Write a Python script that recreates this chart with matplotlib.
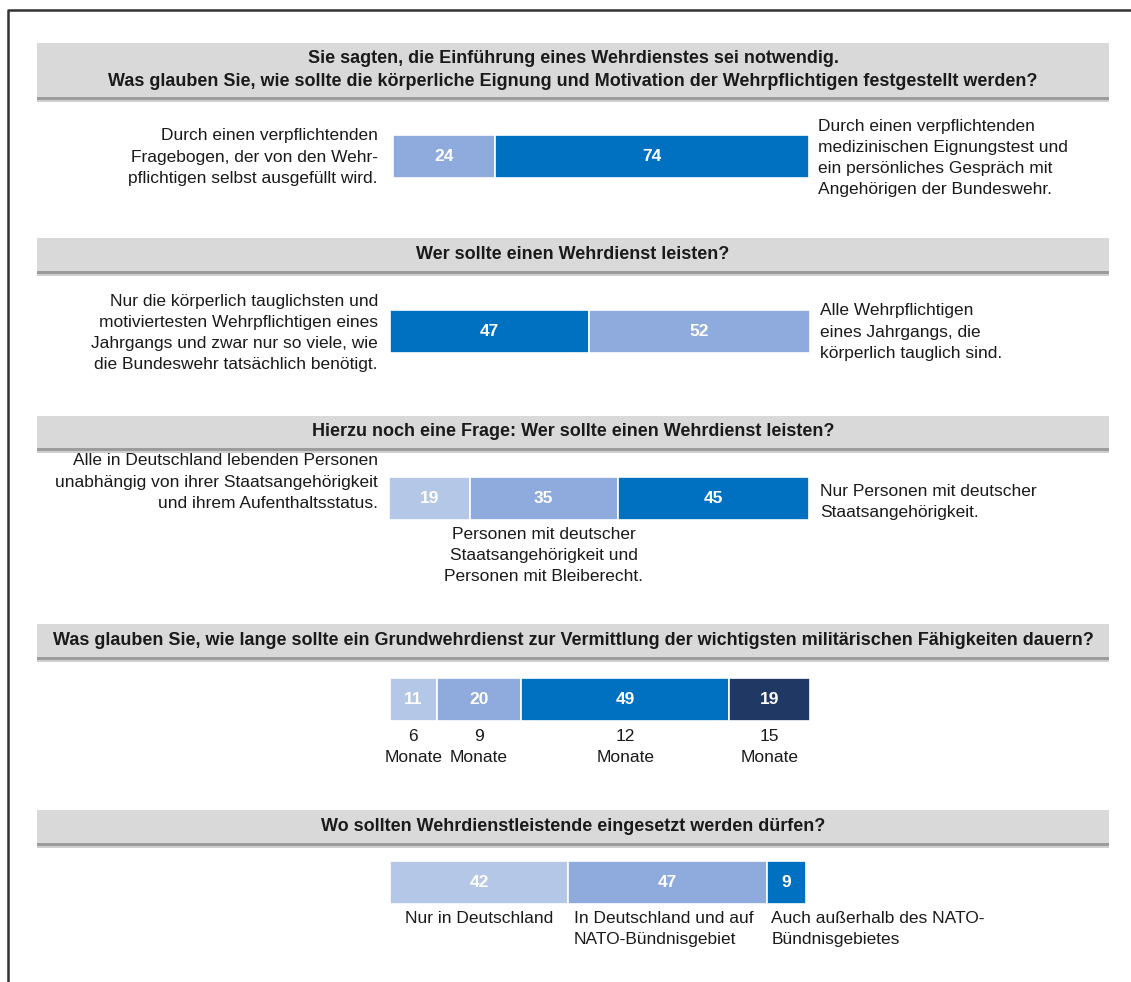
import matplotlib
matplotlib.use('Agg')
import matplotlib.pyplot as plt
from matplotlib.patches import Rectangle

plt.rcParams['font.family'] = ['Liberation Sans', 'DejaVu Sans']

# --- data ---
q1_values = [24, 74]
q2_values = [47, 52]
q3_values = [19, 35, 45]
q4_values = [11, 20, 49, 19]
q4_labels = ['6\nMonate', '9\nMonate', '12\nMonate', '15\nMonate']
q5_values = [42, 47, 9]
q5_labels = ['Nur in Deutschland', 'In Deutschland und auf\nNATO-Bündnisgebiet',
             'Auch außerhalb des NATO-\nBündnisgebietes']

headers = [
    'Sie sagten, die Einführung eines Wehrdienstes sei notwendig.\n'
    'Was glauben Sie, wie sollte die körperliche Eignung und Motivation der Wehrpflichtigen festgestellt werden?',
    'Wer sollte einen Wehrdienst leisten?',
    'Hierzu noch eine Frage: Wer sollte einen Wehrdienst leisten?',
    'Was glauben Sie, wie lange sollte ein Grundwehrdienst zur Vermittlung der wichtigsten militärischen Fähigkeiten dauern?',
    'Wo sollten Wehrdienstleistende eingesetzt werden dürfen?',
]

# colours
LIGHT = '#b4c7e7'
MID = '#8faadc'
BLUE = '#0070c0'
NAVY = '#203864'

# --- layout (pixels, y from top) ---
W, H = 1131, 982
X0 = 390.0       # pixel where 0 % sits
SCALE = 4.24     # pixels per percent
FS = 12.5
LS = 1.52

fig = plt.figure(figsize=(W / 100, H / 100), dpi=100)
ax = fig.add_axes([0, 0, 1, 1])
ax.set_xlim(-X0 / SCALE, (W - X0) / SCALE)
ax.set_ylim(H, 0)
ax.axis('off')


def px(x):
    # pixel x -> percent units
    return (x - X0) / SCALE


# frame
ax.plot([px(8), px(8), px(W)], [H, 9.5, 9.5], color='#333333', lw=1.8,
        solid_capstyle='butt')

# header bands
band_pos = [(43, 97), (238, 271), (416, 448), (624, 657), (810, 843)]
for (top, bot), txt in zip(band_pos, headers):
    ax.add_patch(Rectangle((px(37), bot), px(1109) - px(37), 2.5,
                           color='#9c9c9c', lw=0))
    ax.add_patch(Rectangle((px(37), bot + 2.5), px(1109) - px(37), 2.5,
                           color='#cfcfcf', lw=0))
    ax.add_patch(Rectangle((px(37), top), px(1109) - px(37), bot - top,
                           color='#d9d9d9', lw=0))
    ax.text(px(573), (top + bot) / 2, txt, ha='center', va='center',
            fontsize=13, fontweight='bold', color='#1a1a1a', linespacing=1.45)


def stacked(values, colors, yc, start=X0, h=43):
    left = (start - X0) / SCALE
    lefts = []
    for v, c in zip(values, colors):
        ax.barh(yc, v, left=left, height=h, color=c, edgecolor='white', lw=1.2)
        ax.text(left + v / 2, yc, str(v), ha='center', va='center',
                fontsize=FS, fontweight='bold', color='white')
        lefts.append(left)
        left += v
    return lefts


body = dict(fontsize=FS, color='#1a1a1a', linespacing=LS)

# Q1
stacked(q1_values, [MID, BLUE], 156.5, start=393)
ax.text(px(378), 157, 'Durch einen verpflichtenden\nFragebogen, der von den Wehr-\n'
        'pflichtigen selbst ausgefüllt wird.', ha='right', va='center', **body)
ax.text(px(818), 158, 'Durch einen verpflichtenden\nmedizinischen Eignungstest und\n'
        'ein persönliches Gespräch mit\nAngehörigen der Bundeswehr.',
        ha='left', va='center', **body)

# Q2
stacked(q2_values, [BLUE, MID], 331.5)
ax.text(px(378), 333, 'Nur die körperlich tauglichsten und\nmotiviertesten Wehrpflichtigen eines\n'
        'Jahrgangs und zwar nur so viele, wie\ndie Bundeswehr tatsächlich benötigt.',
        ha='right', va='center', **body)
ax.text(px(820), 332, 'Alle Wehrpflichtigen\neines Jahrgangs, die\nkörperlich tauglich sind.',
        ha='left', va='center', **body)

# Q3
l3 = stacked(q3_values, [LIGHT, MID, BLUE], 498.5, start=389)
ax.text(px(378), 482, 'Alle in Deutschland lebenden Personen\nunabhängig von ihrer Staatsangehörigkeit\n'
        'und ihrem Aufenthaltsstatus.', ha='right', va='center', **body)
ax.text(px(820), 502, 'Nur Personen mit deutscher\nStaatsangehörigkeit.',
        ha='left', va='center', **body)
ax.text(l3[1] + q3_values[1] / 2, 527, 'Personen mit deutscher\nStaatsangehörigkeit und\n'
        'Personen mit Bleiberecht.', ha='center', va='top', **body)

# Q4
l4 = stacked(q4_values, [LIGHT, MID, BLUE, NAVY], 699)
for lft, v, lab in zip(l4, q4_values, q4_labels):
    ax.text(lft + v / 2, 729, lab, ha='center', va='top', **body)

# Q5
l5 = stacked(q5_values, [LIGHT, MID, BLUE], 882.5)
ax.text(l5[0] + q5_values[0] / 2, 911, q5_labels[0], ha='center', va='top', **body)
ax.text(l5[1] + 1.5 / SCALE * 4, 911, q5_labels[1], ha='left', va='top', **body)
ax.text(l5[2] + 1.0 / SCALE * 4, 911, q5_labels[2], ha='left', va='top', **body)

fig.savefig('out.png', dpi=100)
